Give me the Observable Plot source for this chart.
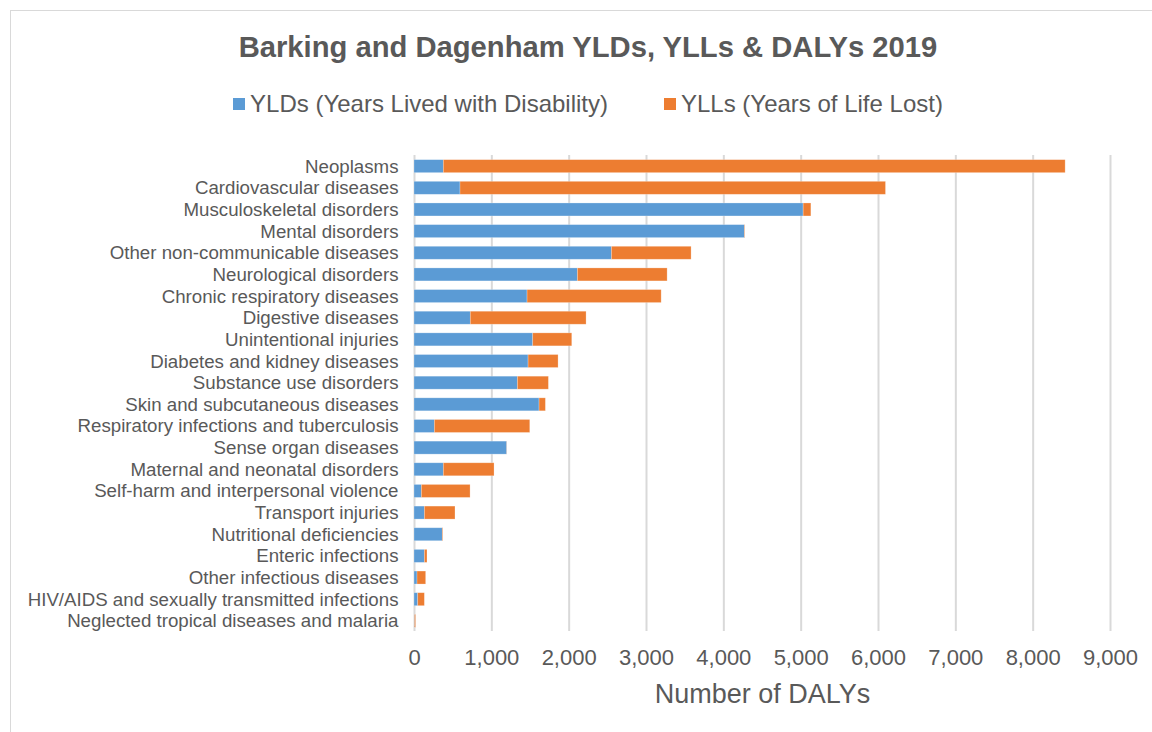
<!DOCTYPE html>
<html>
<head>
<meta charset="utf-8">
<script src="https://cdn.jsdelivr.net/npm/d3@7"></script>
<script src="https://cdn.jsdelivr.net/npm/@observablehq/plot@0.6"></script>
<style>
  body { margin: 0; background: #fff; font-family: "Liberation Sans", Arial, sans-serif; }
  #wrap { position: relative; width: 1152px; height: 732px; overflow: hidden; }
  #frame { position: absolute; left: 10px; top: 10px; width: 1200px; height: 800px; border: 1px solid #d9d9d9; box-sizing: border-box; }
  #title { position: absolute; left: 0; width: 1176px; top: 31px; text-align: center; font-weight: bold; font-size: 29.2px; color: #595959; }
  #legend { position: absolute; left: 0; width: 1176px; top: 90px; text-align: center; font-size: 24px; color: #595959; white-space: nowrap; }
  .sw { display: inline-block; width: 12px; height: 12px; margin-right: 5px; vertical-align: 2px; }
  .item { display: inline-block; margin: 0 28px; }
  #chart { position: absolute; left: 0; top: 140px; }
</style>
</head>
<body>
<div id="wrap">
  <div id="frame"></div>
  <div id="title">Barking and Dagenham YLDs, YLLs &amp; DALYs 2019</div>
  <div id="legend"></div>
  <div id="chart"></div>
</div>
<script>
const categories = [
  "Neoplasms",
  "Cardiovascular diseases",
  "Musculoskeletal disorders",
  "Mental disorders",
  "Other non-communicable diseases",
  "Neurological disorders",
  "Chronic respiratory diseases",
  "Digestive diseases",
  "Unintentional injuries",
  "Diabetes and kidney diseases",
  "Substance use disorders",
  "Skin and subcutaneous diseases",
  "Respiratory infections and tuberculosis",
  "Sense organ diseases",
  "Maternal and neonatal disorders",
  "Self-harm and interpersonal violence",
  "Transport injuries",
  "Nutritional deficiencies",
  "Enteric infections",
  "Other infectious diseases",
  "HIV/AIDS and sexually transmitted infections",
  "Neglected tropical diseases and malaria"
];
const ylds = [379, 595, 5032, 4273, 2553, 2113, 1462, 728, 1535, 1475, 1337, 1617, 263, 1199, 379, 95, 134, 366, 134, 39, 48, 6];
const ylls = [8041, 5502, 100, 7, 1030, 1160, 1734, 1497, 505, 388, 401, 82, 1234, 2, 656, 630, 396, 9, 34, 112, 86, 14];
const seriesNames = ["YLDs (Years Lived with Disability)", "YLLs (Years of Life Lost)"];
const seriesColors = ["#5B9BD5", "#ED7D31"];
const xTicks = [0, 1000, 2000, 3000, 4000, 5000, 6000, 7000, 8000, 9000];

const data = [];
categories.forEach((c, i) => {
  data.push({category: c, series: seriesNames[0], value: ylds[i], order: 0});
  data.push({category: c, series: seriesNames[1], value: ylls[i], order: 1});
});

const leg = document.getElementById("legend");
seriesNames.forEach((s, i) => {
  const span = document.createElement("span");
  span.className = "item";
  span.innerHTML = `<span class="sw" style="background:${seriesColors[i]}"></span>${s}`;
  leg.appendChild(span);
});

const chart = Plot.plot({
  width: 1152,
  height: 592,
  marginTop: 11,
  marginBottom: 96,
  marginLeft: 414,
  marginRight: 42,
  style: { fontFamily: "Liberation Sans, Arial, sans-serif", color: "#595959", background: "transparent" },
  x: { domain: [0, 9000], ticks: xTicks, tickFormat: d3.format(","), label: null },
  y: { domain: categories, padding: 0.4, round: false, label: null },
  color: { domain: seriesNames, range: seriesColors },
  marks: [
    Plot.ruleX(xTicks, { stroke: "#d9d9d9", strokeWidth: 2, insetTop: 4, insetBottom: 5 }),
    Plot.barX(data, Plot.stackX({ x: "value", y: "category", fill: "series", order: "order", stroke: "#fff", strokeOpacity: 0.35, strokeWidth: 0.7 })),
    Plot.axisY({ tickSize: 0, tickPadding: 16, fontSize: 18.7, fill: "#595959" }),
    Plot.axisX({ ticks: xTicks, tickFormat: d3.format(","), tickSize: 0, tickPadding: 13, fontSize: 22, fill: "#595959", label: null }),
    Plot.text(["Number of DALYs"], { frameAnchor: "bottom", dy: 66, fontSize: 27, fill: "#595959" })
  ]
});
document.getElementById("chart").appendChild(chart);
</script>
</body>
</html>
